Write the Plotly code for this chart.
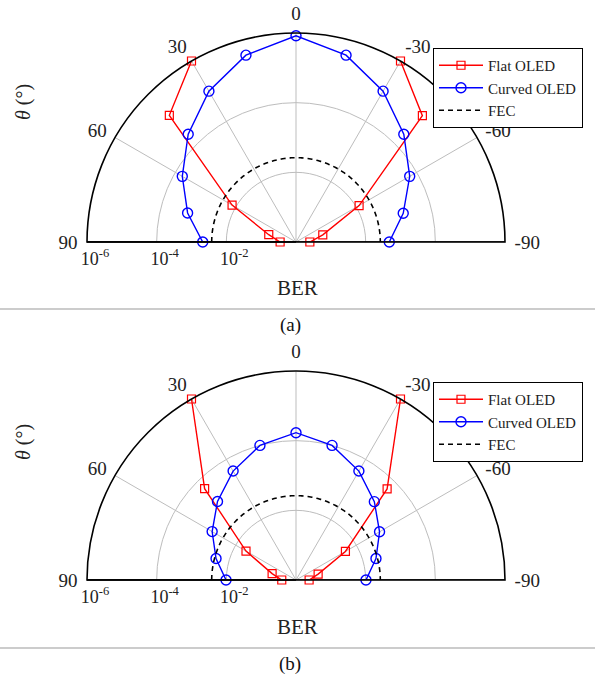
import numpy as np
import plotly.graph_objects as go

# ---------------- data ----------------
angles = [90, 75, 60, 45, 30, 15, 0, -15, -30, -45, -60, -75, -90]

# panel (a)
flat_a = [3.5e-1, 1.55e-1, 7.6e-3, 7.2e-6, 1.0e-6, None, None, None, 1.0e-6, 7.4e-6, 8.1e-3, 1.6e-1, 4.0e-1]
curved_a = [2.1e-3, 6.0e-4, 1.7e-4, 4.2e-5, 1.0e-5, 2.8e-6, 1.2e-6, 2.8e-6, 1.0e-5, 4.2e-5, 1.7e-4, 6.5e-4, 2.1e-3]

# panel (b)
flat_b = [3.9e-1, 1.95e-1, 2.2e-2, 1.95e-4, 1.0e-6, None, None, None, 1.0e-6, 2.0e-4, 2.3e-2, 2.2e-1, 4.2e-1]
curved_b = [9.8e-3, 4.2e-3, 1.66e-3, 6.5e-4, 2.45e-4, 1.0e-4, 5.9e-5, 1.0e-4, 2.45e-4, 6.6e-4, 1.7e-3, 4.2e-3, 9.8e-3]

fec_ber = 3.8e-3

theta_ticks = [90, 60, 30, 0, -30, -60, -90]
theta_text = ["90", "60", "30", "0", "-30", "-60", "-90"]
ber_tick_exp = [6, 4, 2]
ber_tick_text = ["10<sup>-6</sup>", "10<sup>-4</sup>", "10<sup>-2</sup>"]


def to_r(vals):
    return [None if v is None else -np.log10(v) for v in vals]


FONT = "Liberation Serif, Times New Roman, serif"
TXT = "#222"
fig = go.Figure()

X_DOM = [87 / 612, 505 / 612]
panels = [
    ("polar", "legend", "x", "y", flat_a, curved_a, [1 - 242 / 678, 1 - 33 / 678]),
    ("polar2", "legend2", "x2", "y2", flat_b, curved_b, [1 - 580 / 678, 1 - 371 / 678]),
]

fec_theta = np.linspace(90, -90, 181)

for sub, leg, xa, ya, flat, curved, ydom in panels:
    # helper cartesian trace so the BER tick axis below the half disk is drawn
    fig.add_trace(go.Scatter(x=[None], y=[None], xaxis=xa, yaxis=ya,
                             showlegend=False, hoverinfo="skip"))
    # baseline of the half disk
    fig.add_trace(go.Scatterpolar(r=[6, 6], theta=[90, -90], mode="lines",
                                  line=dict(color="black", width=1.6),
                                  showlegend=False, hoverinfo="skip", subplot=sub))
    fig.add_trace(go.Scatterpolar(r=to_r(flat), theta=angles, mode="lines+markers",
                                  name="Flat OLED", legend=leg, subplot=sub,
                                  line=dict(color="#ff0000", width=1.4),
                                  connectgaps=False,
                                  marker=dict(symbol="square-open", size=8,
                                              color="#ff0000", line=dict(width=1.2))))
    fig.add_trace(go.Scatterpolar(r=to_r(curved), theta=angles, mode="lines+markers",
                                  name="Curved OLED", legend=leg, subplot=sub,
                                  line=dict(color="#0000ff", width=1.4),
                                  marker=dict(symbol="circle-open", size=10,
                                              color="#0000ff", line=dict(width=1.4))))
    fig.add_trace(go.Scatterpolar(r=[-np.log10(fec_ber)] * len(fec_theta), theta=fec_theta,
                                  mode="lines", name="FEC", legend=leg, subplot=sub,
                                  line=dict(color="black", width=1.6, dash="5px,4px")))


def polar_layout(ydom):
    return dict(
        sector=[0, 180],
        bgcolor="white",
        domain=dict(x=X_DOM, y=ydom),
        radialaxis=dict(range=[0, 6], tickvals=[2, 4, 6], showticklabels=False,
                        angle=180, showline=True,
                        linecolor="black", linewidth=1.6, gridcolor="#bdbdbd", gridwidth=1.3,
                        ticks=""),
        angularaxis=dict(rotation=90, direction="counterclockwise", thetaunit="degrees",
                         tickmode="array", tickvals=theta_ticks, ticktext=theta_text,
                         showline=True, linecolor="black", linewidth=1.6,
                         gridcolor="#bdbdbd", gridwidth=1.3,
                         ticks="outside", ticklen=5, tickcolor="rgba(0,0,0,0)",
                         tickfont=dict(family=FONT, size=19, color=TXT)),
    )


def ber_axis(anchor):
    return dict(domain=X_DOM, range=[6, -6], anchor=anchor, tickmode="array",
                tickvals=ber_tick_exp, ticktext=ber_tick_text, showgrid=False,
                zeroline=False, showline=False, ticks="", fixedrange=True,
                automargin=False, ticklabelshift=-8, ticklabelstandoff=4,
                tickfont=dict(family=FONT, size=18, color=TXT))


def legend_layout(ytop):
    return dict(x=433 / 612, y=1 - ytop / 678, xanchor="left", yanchor="top",
                bordercolor="black", borderwidth=1, bgcolor="white",
                font=dict(family=FONT, size=15, color=TXT),
                itemwidth=44, tracegroupgap=0)


fig.update_layout(
    width=612, height=678,
    margin=dict(l=0, r=0, t=0, b=0, autoexpand=False),
    paper_bgcolor="white",
    plot_bgcolor="rgba(0,0,0,0)",
    font=dict(family=FONT, color=TXT),
    polar=polar_layout(panels[0][6]),
    polar2=polar_layout(panels[1][6]),
    xaxis=ber_axis("y"),
    yaxis=dict(domain=panels[0][6], range=[0, 1], visible=False, fixedrange=True),
    xaxis2=ber_axis("y2"),
    yaxis2=dict(domain=panels[1][6], range=[0, 1], visible=False, fixedrange=True),
    legend=legend_layout(48),
    legend2=legend_layout(382),
)

# text labels
for yc_theta, yc_ber, lab, ylab in [(102, 288, "(a)", 325), (442, 627, "(b)", 664)]:
    fig.add_annotation(x=23 / 612, y=1 - yc_theta / 678, xref="paper", yref="paper",
                       xanchor="center", yanchor="middle",
                       text="<i>θ</i> (°)", textangle=-90, showarrow=False,
                       font=dict(family=FONT, size=20, color=TXT))
    fig.add_annotation(x=297 / 612, y=1 - yc_ber / 678, xref="paper", yref="paper",
                       xanchor="center", yanchor="middle",
                       text="BER", showarrow=False,
                       font=dict(family=FONT, size=21, color=TXT))
    fig.add_annotation(x=290 / 612, y=1 - ylab / 678, xref="paper", yref="paper",
                       xanchor="center", yanchor="middle",
                       text=lab, showarrow=False,
                       font=dict(family=FONT, size=19, color="#111"))

for yl in [309, 648]:
    fig.add_shape(type="line", xref="paper", yref="paper", x0=0, x1=595 / 612,
                  y0=1 - yl / 678, y1=1 - yl / 678, line=dict(color="#999", width=1))

POST = (
    "document.documentElement.style.margin='0';"
    "document.body.style.margin='0';document.body.style.padding='0';"
    "document.body.style.overflow='hidden';"
    "var d=document.getElementById('{plot_id}');"
    "d.style.position='absolute';d.style.left='0px';d.style.top='0px';"
)
fig.write_html("out.html", config={"displayModeBar": False}, post_script=POST)
